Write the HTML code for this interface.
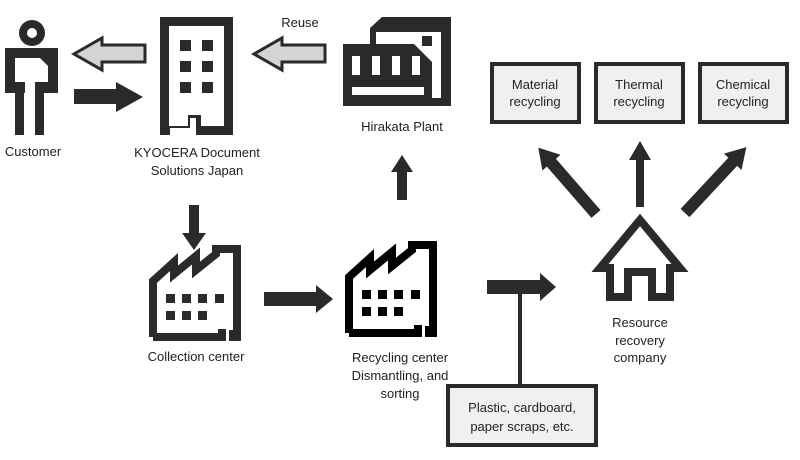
<!DOCTYPE html>
<html><head><meta charset="utf-8"><style>
html,body{margin:0;padding:0;background:#fff;}
svg{display:block;}
text{font-family:"Liberation Sans",sans-serif;font-size:13px;fill:#222;text-anchor:middle;}
</style></head><body>
<svg width="800" height="460" viewBox="0 0 800 460" xmlns="http://www.w3.org/2000/svg">
<defs>
<g id="factory">
 <path d="M349,333 V277 L370,258 V270 L392,252 V266 L412,250 V245 H433 V333 M349,333 H418 V325" fill="none" stroke="currentColor" stroke-width="8" stroke-linejoin="miter"/>
 <rect x="425" y="326" width="12" height="11" fill="currentColor"/>
 <g fill="currentColor">
  <rect x="362" y="290" width="9" height="9"/><rect x="378" y="290" width="9" height="9"/><rect x="394" y="290" width="9" height="9"/><rect x="411" y="290" width="9" height="9"/>
  <rect x="362" y="307" width="9" height="9"/><rect x="378" y="307" width="9" height="9"/><rect x="394" y="307" width="9" height="9"/>
 </g>
</g>
</defs>

<!-- Customer -->
<g fill="#2a2a2a">
 <circle cx="32" cy="33" r="13"/>
 <rect x="5" y="48" width="53" height="10"/>
 <rect x="5" y="48" width="10" height="45"/>
 <rect x="48" y="48" width="10" height="45"/>
 <rect x="5" y="82" width="20" height="11"/>
 <rect x="35" y="82" width="23" height="11"/>
 <rect x="15" y="82" width="9" height="53"/>
 <rect x="35" y="82" width="9" height="53"/>
 <polygon points="40,58 48,58 48,66"/>
</g>
<circle cx="32" cy="33" r="5" fill="#fff"/>
<text x="33" y="156">Customer</text>

<polygon points="145,45 102,45 102,38 74,54 102,70 102,62 145,62" fill="#d4d4d4" stroke="#2a2a2a" stroke-width="3"/>
<polygon points="74,89 116,89 116,82 143,97 116,112 116,104 74,104" fill="#2a2a2a"/>

<path d="M160,17 H233 V135 H196 V118 H190 V128 H170 V135 H160 Z M169,26 V126 H188 V115 H201 V126 H224 V26 Z" fill="#2a2a2a" fill-rule="evenodd"/>
<g fill="#2a2a2a">
 <rect x="180" y="40" width="11" height="11"/><rect x="202" y="40" width="11" height="11"/>
 <rect x="180" y="61" width="11" height="11"/><rect x="202" y="61" width="11" height="11"/>
 <rect x="180" y="82" width="11" height="11"/><rect x="202" y="82" width="11" height="11"/>
</g>
<text x="197" y="157">KYOCERA Document</text>
<text x="197" y="175">Solutions Japan</text>

<text x="300" y="27">Reuse</text>
<polygon points="325,45 282,45 282,38 254,54 282,70 282,62 325,62" fill="#d4d4d4" stroke="#2a2a2a" stroke-width="3"/>

<polygon points="343,44 370,44 370,28 382,17 451,17 451,106 343,106" fill="#2a2a2a"/>
<polygon points="376,44 376,32 441,32 441,98 430,98 430,80 414,62 380,44" fill="#fff"/>
<polygon points="343,44 414,44 432,62 432,106 343,106" fill="#2a2a2a"/>
<rect x="422" y="36" width="10" height="10" fill="#2a2a2a"/>
<g fill="#fff">
 <rect x="352" y="56" width="8" height="19"/><rect x="372" y="56" width="8" height="19"/><rect x="392" y="56" width="8" height="19"/><rect x="412" y="56" width="8" height="19"/>
 <rect x="352" y="87" width="72" height="8"/>
</g>
<text x="402" y="131">Hirakata Plant</text>

<polygon points="397,200 397,172 391,172 402,155 413,172 407,172 407,200" fill="#2a2a2a"/>
<polygon points="189,205 199,205 199,233 206,233 194,250 182,233 189,233" fill="#2a2a2a"/>

<use href="#factory" transform="translate(-196,4)" color="#2a2a2a"/>
<text x="196" y="361">Collection center</text>

<polygon points="264,292 316,292 316,285 333,299 316,313 316,306 264,306" fill="#2a2a2a"/>

<use href="#factory" color="#000"/>
<text x="400" y="362">Recycling center</text>
<text x="400" y="380">Dismantling, and</text>
<text x="400" y="398">sorting</text>

<polygon points="487,280 540,280 540,273 556,287 540,301 540,294 487,294" fill="#2a2a2a"/>
<rect x="518" y="290" width="4" height="96" fill="#2a2a2a"/>
<rect x="448" y="386" width="148" height="59" fill="#f0f0f0" stroke="#2a2a2a" stroke-width="4"/>
<text x="522" y="412">Plastic, cardboard,</text>
<text x="522" y="431">paper scraps, etc.</text>

<g fill="#f0f0f0" stroke="#2a2a2a" stroke-width="4">
 <rect x="492" y="64" width="87" height="58"/>
 <rect x="596" y="64" width="87" height="58"/>
 <rect x="700" y="64" width="87" height="58"/>
</g>
<text x="535" y="89">Material</text><text x="535" y="106">recycling</text>
<text x="639" y="89">Thermal</text><text x="639" y="106">recycling</text>
<text x="743" y="89">Chemical</text><text x="743" y="106">recycling</text>

<g fill="#2a2a2a">
 <polygon points="636,207 644,207 644,160 651,160 640,141 629,160 636,160"/>
 <g transform="translate(596,214) rotate(-131)"><polygon points="0,-6 68,-6 68,-12 88,0 68,12 68,6 0,6"/></g>
 <g transform="translate(685,213) rotate(-47)"><polygon points="0,-6 70,-6 70,-12 90,0 70,12 70,6 0,6"/></g>
</g>

<path d="M600,268 L640,220 L680,268 H670 V297 H652 V272 H628 V297 H610 V268 Z" fill="none" stroke="#2a2a2a" stroke-width="8" stroke-linejoin="miter"/>
<text x="640" y="327">Resource</text>
<text x="640" y="345">recovery</text>
<text x="640" y="362">company</text>
</svg>
</body></html>
